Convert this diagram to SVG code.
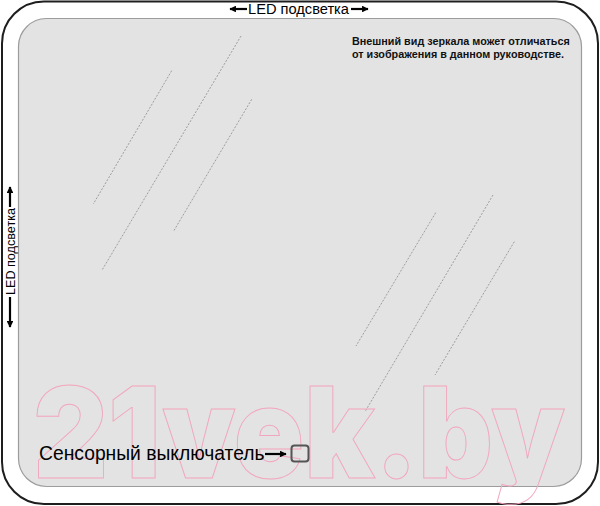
<svg xmlns="http://www.w3.org/2000/svg" width="600" height="506" viewBox="0 0 600 506">
<style>
.lbl{font-family:"Liberation Sans",Arial,sans-serif;fill:#000}
.note{font-family:"Liberation Sans",Arial,sans-serif;font-weight:bold;font-size:10.8px;fill:#111}
.refl{stroke:#8a8a8a;stroke-width:0.8;stroke-dasharray:2 1.5;fill:none}
.ar{stroke:#000;stroke-width:2.2;fill:none}
.wm{font-family:Inter,"Liberation Sans",Arial,sans-serif;font-weight:900;font-size:126px;fill:none;stroke:#f2a6bd;stroke-width:1}
</style>
<defs>
<marker id="ah" viewBox="0 0 10 10" refX="9" refY="5" markerWidth="3.4" markerHeight="3" orient="auto" markerUnits="strokeWidth">
<path d="M0,0 L10,5 L0,10 Z" fill="#000"/>
</marker>
</defs>
<rect width="600" height="506" fill="#ffffff"/>
<g id="frame">
<rect x="2" y="1.5" width="596" height="502.5" rx="42" ry="42" fill="#fff" stroke="#1e1e1e" stroke-width="2"/>
</g>
<g id="mirror">
<rect x="18.5" y="18.5" width="563" height="468" rx="28" ry="28" fill="#e3e3e3" stroke="#9c9c9c" stroke-width="1.2"/>
<line class="refl" x1="171.7" y1="70.7" x2="93.3" y2="204"/>
<line class="refl" x1="241" y1="36" x2="101.7" y2="270.7"/>
<line class="refl" x1="251.7" y1="99.3" x2="173.3" y2="231.7"/>
<line class="refl" x1="435.7" y1="212.7" x2="356" y2="346"/>
<line class="refl" x1="493" y1="195" x2="365" y2="411.7"/>
<line class="refl" x1="514.3" y1="241.7" x2="435" y2="375"/>
</g>
<g id="watermark">
<text class="wm" x="33" y="478" textLength="532" lengthAdjust="spacingAndGlyphs">21vek.by</text>
</g>
<g id="note">
<text class="note" x="352" y="45">Внешний вид зеркала может отличаться</text>
<text class="note" x="352" y="58">от изображения в данном руководстве.</text>
</g>
<g id="led-top">
<text class="lbl" x="298.5" y="14" font-size="14" text-anchor="middle" textLength="101" lengthAdjust="spacingAndGlyphs">LED подсветка</text>
</g>
<g id="led-left">
<text class="lbl" transform="translate(15,251.5) rotate(-90)" font-size="13" text-anchor="middle" textLength="87" lengthAdjust="spacingAndGlyphs">LED подсветка</text>
</g>
<g id="sensor-label">
<text class="lbl" x="39" y="460" font-size="19.3">Сенсорный выключатель</text>
</g>
<g id="sensor">
<rect x="291.5" y="445.5" width="17" height="16" rx="3" ry="3" fill="none" stroke="#555" stroke-width="2"/>
</g>
<g id="connectors">
<line class="ar" x1="247" y1="9" x2="230" y2="9" marker-end="url(#ah)"/>
<line class="ar" x1="351" y1="9" x2="368" y2="9" marker-end="url(#ah)"/>
<line class="ar" x1="10" y1="207" x2="10" y2="187" marker-end="url(#ah)"/>
<line class="ar" x1="10" y1="297" x2="10" y2="327" marker-end="url(#ah)"/>
<line class="ar" x1="265" y1="454" x2="286" y2="454" marker-end="url(#ah)"/>
</g>
</svg>
